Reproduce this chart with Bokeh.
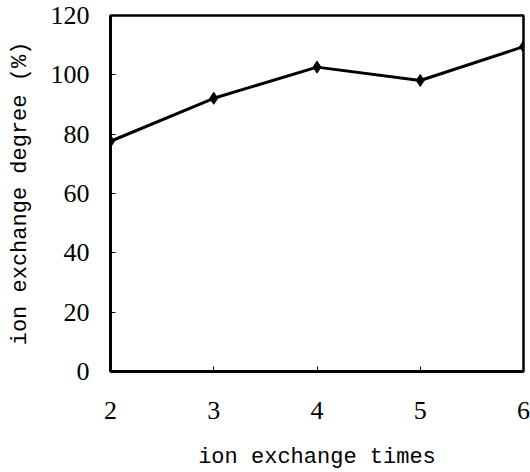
from bokeh.plotting import figure
from bokeh.models import Range1d, FixedTicker
from bokeh.embed import file_html
from bokeh.resources import INLINE

# ion exchange degree after repeated exchanges
exchange_times = [2, 3, 4, 5, 6]
exchange_degree = [77.6, 92.1, 102.6, 98.1, 109.5]
x_ticks = [2, 3, 4, 5, 6]
y_ticks = [0, 20, 40, 60, 80, 100, 120]

SERIF = "Liberation Serif"
MONO = "Liberation Mono"

p = figure(
    width=530, height=472,
    output_backend="svg", toolbar_location=None,
    x_range=Range1d(2, 6), y_range=Range1d(0, 120),
    min_border_left=110, min_border_right=7,
    min_border_top=15, min_border_bottom=101,
)
p.frame_width = 413
p.frame_height = 356

p.background_fill_color = "white"
p.border_fill_color = "white"
p.outline_line_color = "black"
p.outline_line_width = 2.5
p.xgrid.visible = False
p.ygrid.visible = False

p.line(exchange_times, exchange_degree, line_color="black", line_width=3)
p.scatter(exchange_times, exchange_degree, marker="diamond", size=12,
          fill_color="black", line_color="black")

for ax in (p.xaxis[0], p.yaxis[0]):
    ax.axis_line_width = 3
    ax.axis_line_color = "black"
    ax.major_tick_in = 5
    ax.major_tick_out = 0
    ax.major_tick_line_color = "black"
    ax.major_tick_line_width = 1
    ax.minor_tick_line_color = None
    ax.major_label_text_font = SERIF
    ax.major_label_text_font_size = "26px"
    ax.major_label_text_color = "black"
    ax.axis_label_text_font = MONO
    ax.axis_label_text_font_size = "22px"
    ax.axis_label_text_font_style = "normal"
    ax.axis_label_text_color = "black"

p.xaxis.ticker = FixedTicker(ticks=x_ticks)
p.yaxis.ticker = FixedTicker(ticks=y_ticks)
p.xaxis.axis_label = "ion exchange times"
p.yaxis.axis_label = "ion exchange degree (%)"
p.xaxis.major_label_standoff = 30
p.yaxis.major_label_standoff = 21
p.xaxis.axis_label_standoff = 23
p.yaxis.axis_label_standoff = 15

open("out.html", "w").write(file_html(p, INLINE))
